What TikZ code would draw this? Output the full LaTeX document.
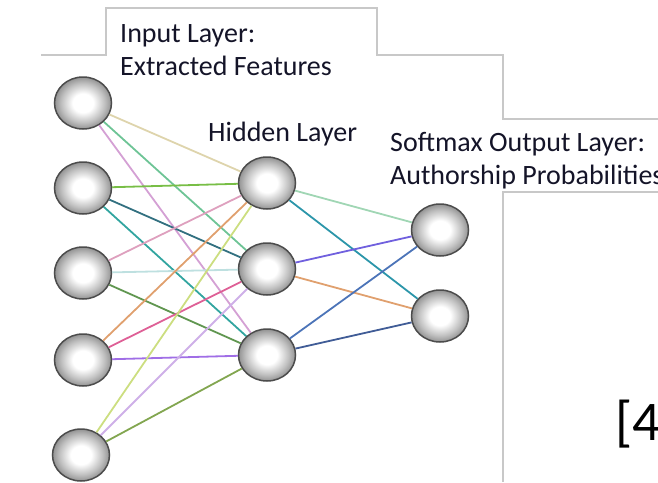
\documentclass[tikz,border=0pt]{standalone}
\usepackage{fontspec}
\setmainfont{Carlito}
\usepackage{xcolor}
\usepackage{tikz}
\usetikzlibrary{shapes,arrows,positioning,calc}

\definecolor{wTan}{RGB}{222,212,172}
\definecolor{wMint}{RGB}{110,196,150}
\definecolor{wLilac}{RGB}{212,160,212}
\definecolor{wGreen}{RGB}{120,190,70}
\definecolor{wDeepTeal}{RGB}{50,112,128}
\definecolor{wTeal}{RGB}{50,165,160}
\definecolor{wPink}{RGB}{222,160,190}
\definecolor{wIce}{RGB}{190,224,224}
\definecolor{wForest}{RGB}{96,150,80}
\definecolor{wSalmon}{RGB}{224,160,110}
\definecolor{wRose}{RGB}{222,96,150}
\definecolor{wViolet}{RGB}{160,110,230}
\definecolor{wLime}{RGB}{204,222,128}
\definecolor{wLavender}{RGB}{206,176,232}
\definecolor{wOlive}{RGB}{130,166,80}
\definecolor{wSea}{RGB}{160,214,180}
\definecolor{wCyan}{RGB}{44,150,170}
\definecolor{wIndigo}{RGB}{112,96,222}
\definecolor{wBlue}{RGB}{76,116,184}
\definecolor{wNavy}{RGB}{64,92,150}
\definecolor{frameGray}{RGB}{200,200,200}
\definecolor{inkText}{RGB}{20,20,40}

\pgfdeclareradialshading{ballshade}{\pgfpoint{0bp}{0bp}}{%
  color(0bp)=(white); color(9bp)=(white); color(19bp)=(gray!50);
  color(25bp)=(gray!85); color(50bp)=(gray!85)}

\begin{document}
\begin{tikzpicture}[x=1pt, y=-1pt,
    neuron/.style={ellipse, draw=black!70, line width=1.5pt, shading=ballshade,
      minimum width=57pt, minimum height=52pt, inner sep=0pt},
    wire/.style={line width=1.8pt},
    lbl/.style={font=\fontsize{28}{33}\selectfont, text=inkText, align=left, inner sep=0pt},
    frame/.style={draw=frameGray, line width=1.1pt}]
    \useasboundingbox (0,0) rectangle (658,482);
    \clip (0,0) rectangle (658,482);

    % grey slide edges
    \draw[frame] (41,55) -- (106,55) -- (106,8) -- (377,8) -- (377,55) -- (503,55) -- (503,119) -- (658,119);
    \draw[frame] (658,192) -- (503,192) -- (503,482);

    % input layer
    \node[neuron] (i1) at (83,103) {};
    \node[neuron] (i2) at (83,188) {};
    \node[neuron] (i3) at (83,273) {};
    \node[neuron] (i4) at (83,360) {};
    \node[neuron] (i5) at (81,455) {};
    % hidden layer
    \node[neuron] (h1) at (267,183) {};
    \node[neuron] (h2) at (267,269) {};
    \node[neuron] (h3) at (267,355) {};
    % output layer
    \node[neuron] (o1) at (440,230) {};
    \node[neuron] (o2) at (440,316) {};

    \draw[wire, wTan] (i1) -- (h1);
    \draw[wire, wMint] (i1) -- (h2);
    \draw[wire, wLilac] (i1) -- (h3);
    \draw[wire, wGreen] (i2) -- (h1);
    \draw[wire, wDeepTeal] (i2) -- (h2);
    \draw[wire, wTeal] (i2) -- (h3);
    \draw[wire, wPink] (i3) -- (h1);
    \draw[wire, wIce] (i3) -- (h2);
    \draw[wire, wForest] (i3) -- (h3);
    \draw[wire, wSalmon] (i4) -- (h1);
    \draw[wire, wRose] (i4) -- (h2);
    \draw[wire, wViolet] (i4) -- (h3);
    \draw[wire, wLime] (i5) -- (h1);
    \draw[wire, wLavender] (i5) -- (h2);
    \draw[wire, wOlive] (i5) -- (h3);

    \draw[wire, wSea] (h1) -- (o1);
    \draw[wire, wCyan] (h1) -- (o2);
    \draw[wire, wIndigo] (h2) -- (o1);
    \draw[wire, wSalmon] (h2) -- (o2);
    \draw[wire, wBlue] (h3) -- (o1);
    \draw[wire, wNavy] (h3) -- (o2);

    % labels (base = last line)
    \node[lbl, anchor=base west] (inlbl) at (120,75) {Input Layer:\\Extracted Features};
    \node[lbl, anchor=base west] (hidlbl) at (208,141) {Hidden Layer};
    \node[lbl, anchor=base west] (outlbl) at (390,184) {Softmax Output Layer:\\Authorship Probabilities};
    \node[anchor=base west, inner sep=0pt, font=\fontsize{56}{64}\selectfont] (ref) at (615,440) {[4};
\end{tikzpicture}
\end{document}
